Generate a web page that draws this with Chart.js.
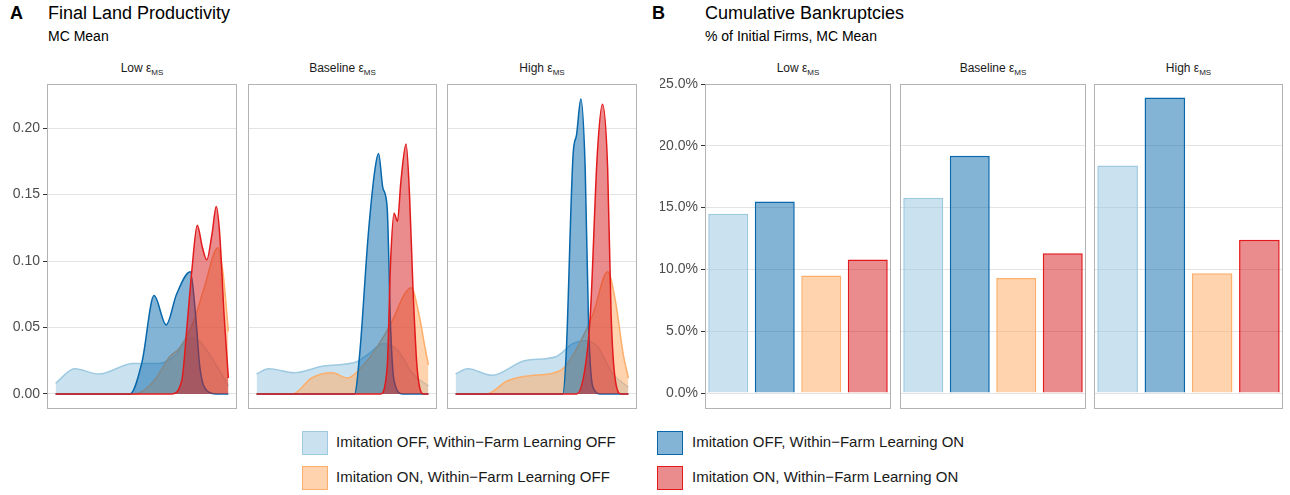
<!DOCTYPE html>
<html lang="en">
<head>
  <meta charset="UTF-8">
  <title>Land Productivity and Bankruptcies</title>
  <style>
    body { margin: 0; width: 1290px; height: 495px; background: #fff; font-family: 'Liberation Sans', Arial, sans-serif; position: relative; overflow: hidden; }
    .abs { position: absolute; }
    .tag { font-weight: bold; font-size: 18px; color: #000; }
    .title { font-size: 18px; color: #000; }
    .sub { font-size: 14px; color: #000; }
    .strip { font-size: 12px; color: #1a1a1a; text-align: center; }
    .strip sub { font-size: 8px; }
    .box { position: absolute; }
    .sw { position: absolute; width: 26px; height: 24px; box-sizing: border-box; border: 1.5px solid; }
    .lg { position: absolute; font-size: 15px; color: #1a1a1a; }
  </style>
  <script src="https://cdn.jsdelivr.net/npm/chart.js"></script>
</head>
<body>
  <div class="abs tag" style="left:10px;top:3px">A</div>
  <div class="abs title" style="left:48px;top:3px">Final Land Productivity</div>
  <div class="abs sub" style="left:48px;top:28px">MC Mean</div>
  <div class="abs tag" style="left:652px;top:3px">B</div>
  <div class="abs title" style="left:705px;top:3px">Cumulative Bankruptcies</div>
  <div class="abs sub" style="left:705px;top:28px">% of Initial Firms, MC Mean</div>

  <div id="strips"></div>
  <div id="canvases"></div>

  <div class="sw" style="left:302px;top:431px;border-color:#9ecae1;background:rgba(158,202,225,0.55)"></div>
  <div class="lg" style="left:336px;top:433px">Imitation OFF, Within−Farm Learning OFF</div>
  <div class="sw" style="left:657px;top:431px;border-color:#0868ac;background:rgba(8,104,172,0.5)"></div>
  <div class="lg" style="left:692px;top:433px">Imitation OFF, Within−Farm Learning ON</div>
  <div class="sw" style="left:302px;top:466px;border-color:#fdae6b;background:rgba(253,174,107,0.55)"></div>
  <div class="lg" style="left:336px;top:468px">Imitation ON, Within−Farm Learning OFF</div>
  <div class="sw" style="left:657px;top:466px;border-color:#e31a1c;background:rgba(214,26,28,0.5)"></div>
  <div class="lg" style="left:692px;top:468px">Imitation ON, Within−Farm Learning ON</div>

  <script>
    // facets
    const facets = ['Low', 'Baseline', 'High'];
    const seriesNames = [
      'Imitation OFF, Within−Farm Learning OFF',
      'Imitation OFF, Within−Farm Learning ON',
      'Imitation ON, Within−Farm Learning OFF',
      'Imitation ON, Within−Farm Learning ON'
    ];
    const lineColors = ['#9ecae1', '#0868ac', '#fdae6b', '#e31a1c'];
    const fillColors = ['rgba(158,202,225,0.55)', 'rgba(8,104,172,0.5)', 'rgba(253,174,107,0.55)', 'rgba(214,26,28,0.5)'];
    const drawOrder = [4, 2, 3, 1]; // higher = further back

    // density curves, x rescaled to 0..100 (productivity range)
    const densLow = [
      [[0,0.008],[11,0.019],[25,0.015],[45,0.023],[60,0.023],[70,0.03],[77,0.042],[82,0.041],[90,0.028],[100,0.006]],
      [[0,0],[43,0],[50,0.024],[57,0.074],[64,0.052],[70,0.075],[78,0.092],[81,0.06],[83.5,0.02],[88,0.002],[93,0],[100,0]],
      [[0,0],[46,0],[57,0.01],[66,0.028],[72,0.035],[80,0.055],[86,0.08],[94,0.11],[97,0.09],[100,0.047]],
      [[0,0],[67,0],[73,0.01],[76,0.05],[79,0.095],[82,0.127],[85,0.11],[87.5,0.101],[90.5,0.12],[93,0.141],[95,0.12],[97.5,0.06],[100,0.012]]
    ];
    const densBase = [
      [[0,0.015],[7,0.019],[22,0.016],[39,0.021],[58,0.024],[65,0.03],[74,0.038],[82,0.033],[91,0.015],[100,0.006]],
      [[0,0],[57,0],[60,0.03],[65,0.12],[69,0.17],[71,0.181],[73.5,0.155],[76,0.14],[78,0.05],[80,0.01],[85,0],[100,0]],
      [[0,0],[21,0],[32,0.012],[44,0.016],[53,0.012],[61,0.02],[70,0.035],[79,0.055],[86,0.075],[90,0.08],[94.5,0.06],[98,0.035],[100,0.022]],
      [[0,0],[72,0],[76,0.02],[78,0.1],[80,0.136],[82,0.13],[84,0.16],[87,0.188],[89,0.15],[91,0.08],[93.4,0.02],[97,0],[100,0]]
    ];
    const densHigh = [
      [[0,0.015],[7,0.019],[21,0.014],[40,0.025],[58,0.028],[68,0.038],[75,0.04],[82,0.036],[91,0.015],[100,0.005]],
      [[0,0],[62,0],[64,0.03],[68,0.18],[70,0.195],[72.5,0.222],[75,0.17],[77,0.05],[79.5,0.005],[84,0],[100,0]],
      [[0,0],[18,0],[30,0.01],[44,0.014],[54,0.015],[63,0.02],[72.5,0.04],[79.5,0.06],[88,0.092],[92.5,0.07],[97,0.03],[100,0.012]],
      [[0,0],[70,0],[75,0.02],[78,0.06],[82,0.18],[85,0.218],[88,0.17],[90,0.06],[92.5,0.01],[96,0],[100,0]]
    ];
    const densities = [densLow, densBase, densHigh];
    const densTicks = [0, 0.05, 0.10, 0.15, 0.20];

    // bankruptcies, % of initial firms
    const bankLow = [14.5, 15.5, 9.5, 10.8];
    const bankBase = [15.8, 19.2, 9.3, 11.3];
    const bankHigh = [18.4, 23.9, 9.7, 12.4];
    const bankruptcies = [bankLow, bankBase, bankHigh];
    const bankTicks = [0, 5, 10, 15, 20, 25];

    const panelTop = 84, panelBottom = 409, pad = 12;
    const panelsA = [[47, 237], [248, 437], [447, 637]];
    const panelsB = [[705, 891], [900, 1086], [1094, 1283]];
    const axisW = 45;

    const borderPlugin = {
      id: 'panelBorder',
      afterDraw(chart) {
        const a = chart.chartArea, c = chart.ctx;
        c.save(); c.strokeStyle = '#b3b3b3'; c.lineWidth = 1;
        c.strokeRect(a.left + 0.5, a.top + 0.5, a.right - a.left - 1, a.bottom - a.top - 1);
        c.restore();
      }
    };

    function addStrip(name, l, r) {
      const d = document.createElement('div');
      d.className = 'abs strip';
      d.style.left = l + 'px'; d.style.width = (r - l) + 'px'; d.style.top = '61px';
      d.innerHTML = name + ' ε<sub>MS</sub>';
      document.getElementById('strips').appendChild(d);
    }

    function makeCanvas(l, r, first) {
      const box = document.createElement('div');
      box.className = 'box';
      const left = first ? l - axisW : l;
      box.style.left = left + 'px'; box.style.top = (panelTop - pad) + 'px';
      box.style.width = (r - left) + 'px'; box.style.height = (panelBottom - panelTop + 2 * pad) + 'px';
      const cv = document.createElement('canvas');
      box.appendChild(cv);
      document.getElementById('canvases').appendChild(box);
      return cv;
    }

    function yScale(min, max, ticks, first, fmt) {
      return {
        min: min, max: max,
        afterBuildTicks: s => { s.ticks = ticks.map(v => ({ value: v })); },
        afterFit: s => { s.width = first ? axisW : 0; },
        border: { display: false },
        grid: { color: '#e3e3e3', lineWidth: 1, drawTicks: first, tickLength: 4, tickColor: '#333' },
        ticks: { display: first, color: '#4d4d4d', font: { size: 14, family: 'Liberation Sans' }, padding: 3, callback: fmt }
      };
    }

    const common = {
      responsive: true, maintainAspectRatio: false, animation: false,
      layout: { padding: { top: pad, bottom: pad, left: 0, right: 0 } },
      plugins: { legend: { display: false }, tooltip: { enabled: false } }
    };

    facets.forEach((f, i) => {
      // panel A: densities
      const [al, ar] = panelsA[i];
      addStrip(f, al, ar);
      new Chart(makeCanvas(al, ar, i === 0), {
        type: 'line',
        data: {
          datasets: densities[i].map((pts, k) => ({
            label: seriesNames[k],
            data: pts.map(p => ({ x: p[0], y: p[1] })),
            order: drawOrder[k],
            borderColor: lineColors[k], backgroundColor: fillColors[k],
            borderWidth: 1.5, fill: 'origin', pointRadius: 0,
            tension: 0.4, cubicInterpolationMode: 'monotone'
          }))
        },
        options: Object.assign({}, common, {
          scales: {
            x: { type: 'linear', min: -5, max: 105, display: false },
            y: yScale(-0.0113, 0.2332, densTicks, i === 0, v => v.toFixed(2))
          }
        }),
        plugins: [borderPlugin]
      });

      // panel B: bars
      const [bl, br] = panelsB[i];
      addStrip(f, bl, br);
      new Chart(makeCanvas(bl, br, i === 0), {
        type: 'bar',
        data: {
          labels: seriesNames,
          datasets: [{
            data: bankruptcies[i],
            backgroundColor: fillColors, borderColor: lineColors, borderWidth: 1.5,
            barPercentage: 0.86, categoryPercentage: 1
          }]
        },
        options: Object.assign({}, common, {
          scales: {
            x: { display: false, offset: true },
            y: yScale(-1.29, 25, bankTicks, i === 0, v => v.toFixed(1) + '%')
          }
        }),
        plugins: [borderPlugin]
      });
    });
  </script>
</body>
</html>
